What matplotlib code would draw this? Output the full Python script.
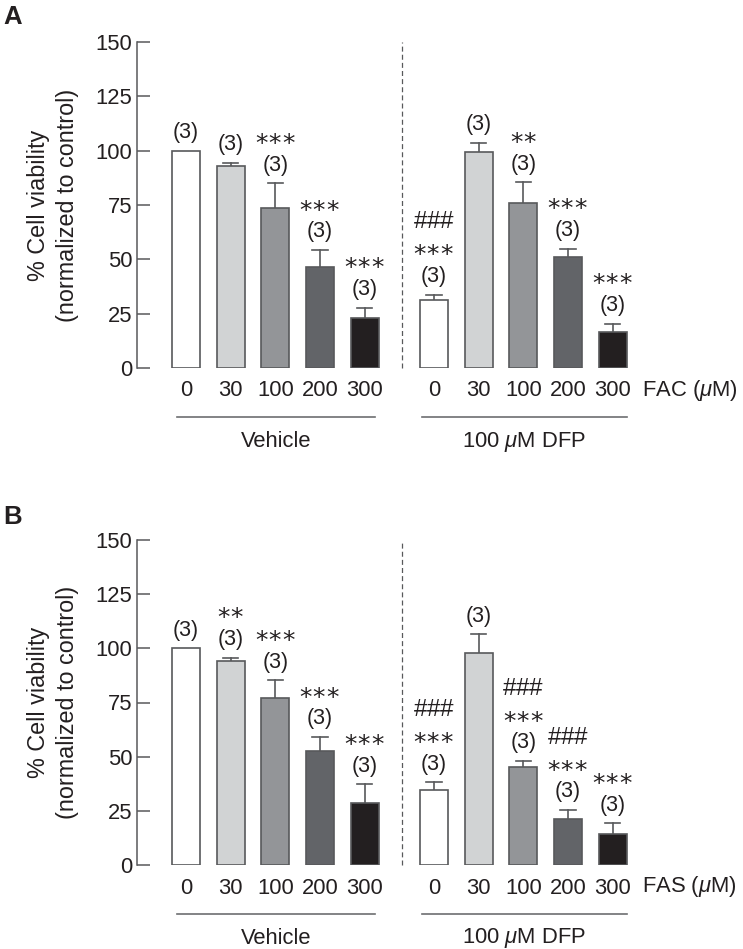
import matplotlib
matplotlib.use("Agg")
import matplotlib.pyplot as plt
import matplotlib.transforms as mtransforms
import numpy as np

plt.rcParams['font.family'] = ['Liberation Sans', 'DejaVu Sans']
plt.rcParams['mathtext.fontset'] = 'custom'
plt.rcParams['mathtext.rm'] = 'Liberation Sans'
plt.rcParams['mathtext.it'] = 'Liberation Sans:italic'
plt.rcParams['mathtext.bf'] = 'Liberation Sans:bold'
plt.rcParams['mathtext.sf'] = 'DejaVu Sans'

# ---------------- data ----------------
doses = ["0", "30", "100", "200", "300"]
groups = ["Vehicle", "100 $\\mu$M DFP"]

a_vehicle_mean = [100.0, 92.8, 73.6, 46.3, 23.2]
a_vehicle_sem = [0.0, 1.7, 11.4, 7.9, 4.6]
a_dfp_mean = [31.5, 99.6, 75.9, 51.0, 16.6]
a_dfp_sem = [2.3, 4.1, 9.5, 3.9, 3.8]
a_vehicle_n = ["(3)"] * 5
a_dfp_n = ["(3)"] * 5
a_vehicle_stars = ["", "", "***", "***", "***"]
a_dfp_stars = ["***", "", "**", "***", "***"]
a_vehicle_hash = ["", "", "", "", ""]
a_dfp_hash = ["###", "", "", "", ""]

b_vehicle_mean = [100.0, 94.0, 77.2, 52.6, 28.5]
b_vehicle_sem = [0.0, 1.7, 8.0, 6.6, 8.7]
b_dfp_mean = [34.6, 98.0, 45.1, 21.2, 14.3]
b_dfp_sem = [3.6, 8.5, 2.9, 4.2, 4.9]
b_vehicle_n = ["(3)"] * 5
b_dfp_n = ["(3)"] * 5
b_vehicle_stars = ["", "**", "***", "***", "***"]
b_dfp_stars = ["***", "", "***", "***", "***"]
b_vehicle_hash = ["", "", "", "", ""]
b_dfp_hash = ["###", "", "###", "###", ""]

yticks = [0, 25, 50, 75, 100, 125, 150]

# ---------------- style ----------------
bar_colors = ["#ffffff", "#d1d3d4", "#939598", "#626468", "#231f20"]
edge = "#58595b"
txt = "#231f20"
FS = 15.8
W, H = 743, 949

fig = plt.figure(figsize=(W / 100, H / 100), dpi=100)

x_veh = np.arange(5)
x_dfp = np.arange(5) + 5.55


def px_axes(top_px, bot_px):
    left = 137 / W
    right = 640 / W
    return [left, 1 - bot_px / H, right - left, (bot_px - top_px) / H]


def star_tex(s):
    return ("$\\mathsf{" + "\\hspace{0.07}".join("{" + c + "}" for c in s)
            + "}$")


def hash_tex(s):
    return "$" + "".join("\\" + c for c in s) + "$"


def panel(rect, letter, letter_y, veh_m, veh_e, dfp_m, dfp_e, veh_n, dfp_n,
          veh_s, dfp_s, veh_h, dfp_h, agent):
    ax = fig.add_axes(rect)
    for xs, m, e, ns, ss, hs in [(x_veh, veh_m, veh_e, veh_n, veh_s, veh_h),
                                 (x_dfp, dfp_m, dfp_e, dfp_n, dfp_s, dfp_h)]:
        ax.bar(xs, m, width=0.63, color=bar_colors, edgecolor=edge,
               linewidth=1.2, zorder=3)
        for xi, mi, ei, ni, si, hi in zip(xs, m, e, ns, ss, hs):
            top = mi + ei
            if ei > 0:
                ax.plot([xi, xi], [mi, top], color=edge, lw=1.2, zorder=2)
                ax.plot([xi - 0.17, xi + 0.17], [top, top], color=edge,
                        lw=1.2, zorder=2)
            ax.text(xi, top + 8.4, ni, ha='center', va='center',
                    fontsize=FS - 0.3, color=txt)
            if si:
                ax.text(xi, top + 19.0, star_tex(si), ha='center',
                        va='center', fontsize=18, color=txt)
            if hi:
                ax.text(xi, top + 33.3, hash_tex(hi), ha='center',
                        va='center', fontsize=17.5, color=txt)
    ax.set_ylim(0, 150)
    ax.set_xlim(-1.096, 10.16)
    ax.set_yticks(yticks)
    ax.set_yticklabels([str(t) for t in yticks], fontsize=FS, color=txt)
    ax.tick_params(axis='y', direction='in', length=9.5, width=1.1,
                   color=edge, pad=3.5)
    ax.set_xticks(list(x_veh) + list(x_dfp))
    ax.set_xticklabels(doses + doses, fontsize=FS, color=txt)
    ax.tick_params(axis='x', length=0, pad=9)
    for s in ['top', 'right', 'bottom']:
        ax.spines[s].set_visible(False)
    ax.spines['left'].set_color(edge)
    ax.spines['left'].set_linewidth(1.1)
    # dashed divider
    ax.plot([4.83, 4.83], [0, 150], ls=(0, (4, 2.5)), color=edge, lw=0.9,
            clip_on=False)
    trans = mtransforms.blended_transform_factory(ax.transData, ax.transAxes)
    ax.text(10.2, -0.0675, agent + " ($\\mu$M)", transform=trans,
            ha='left', va='center', fontsize=FS, color=txt, clip_on=False)
    for (x0, x1), g in zip([(-0.2, 4.23), (5.28, 9.87)], groups):
        ax.plot([x0, x1], [-0.150, -0.150], transform=trans, color="#6d6e71",
                lw=1.2, clip_on=False)
        ax.text((x0 + x1) / 2, -0.226, g, transform=trans, ha='center',
                va='center', fontsize=FS, color=txt)
    # y label
    fig.text(53 / W, rect[1] + rect[3] / 2,
             "% Cell viability\n(normalized to control)", rotation=90,
             ha='center', va='center', fontsize=16.8, color=txt,
             linespacing=1.3)
    fig.text(3 / W, 1 - letter_y / H, letter, ha='left', va='center',
             fontsize=18.5, fontweight='heavy', color=txt)
    return ax


panel(px_axes(42, 368), "A", 17, a_vehicle_mean, a_vehicle_sem, a_dfp_mean,
      a_dfp_sem, a_vehicle_n, a_dfp_n, a_vehicle_stars, a_dfp_stars,
      a_vehicle_hash, a_dfp_hash, "FAC")
panel(px_axes(540, 865), "B", 517, b_vehicle_mean, b_vehicle_sem, b_dfp_mean,
      b_dfp_sem, b_vehicle_n, b_dfp_n, b_vehicle_stars, b_dfp_stars,
      b_vehicle_hash, b_dfp_hash, "FAS")

fig.savefig("out.png", dpi=100)
